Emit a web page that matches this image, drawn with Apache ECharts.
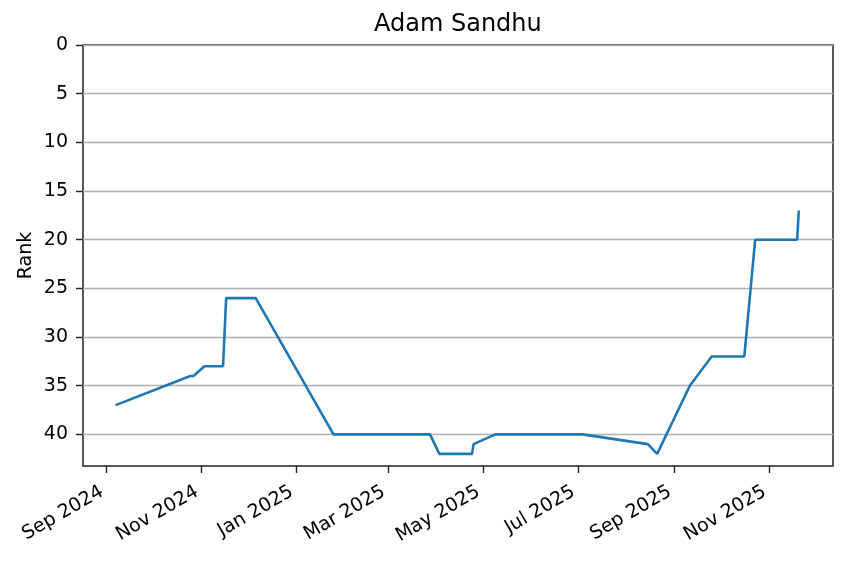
<!DOCTYPE html>
<html><head><meta charset="utf-8">
<script src="https://cdn.jsdelivr.net/npm/echarts@6/dist/echarts.min.js"></script>
<style>html,body{margin:0;padding:0;background:#fff}#c{width:847px;height:561px}</style>
</head><body><div id="c"></div>
<script>
const dates = ['2024-09-07','2024-10-25','2024-10-27','2024-11-03','2024-11-15','2024-11-17','2024-12-06',
  '2025-01-25','2025-03-28','2025-04-03','2025-04-24','2025-04-25','2025-05-09','2025-07-04',
  '2025-08-15','2025-08-21','2025-09-11','2025-09-25','2025-10-16','2025-10-23','2025-11-19','2025-11-20'];
const ranks = [37,34,34,33,33,26,26,40,40,42,42,41,40,40,41,42,35,32,32,20,20,17];
const xTickDates = ['2024-09-01','2024-11-01','2025-01-01','2025-03-01','2025-05-01','2025-07-01','2025-09-01','2025-11-01'];
const xTickLabels = ['Sep 2024','Nov 2024','Jan 2025','Mar 2025','May 2025','Jul 2025','Sep 2025','Nov 2025'];
const yTicks = [0,5,10,15,20,25,30,35,40];
const xMinDate = '2024-08-17';
const xMaxDate = '2025-12-12';
const yMax = 43.25;
const titleText = 'Adam Sandhu';
const yName = 'Rank';

const ts = s => Date.parse(s);
const xTickVals = xTickDates.map(ts);
const seriesData = dates.map((d, i) => [ts(d), ranks[i]]);
const FONT = 'DejaVu Sans';

const chart = echarts.init(document.getElementById('c'), null, {renderer: 'canvas'});
chart.setOption({
  animation: false,
  backgroundColor: '#ffffff',
  title: {
    text: titleText, left: 374, top: 13, padding: 0,
    textStyle: {fontFamily: FONT, fontSize: 24, fontWeight: 'normal', color: '#000'}
  },
  grid: {left: 83, right: 14, top: 45, bottom: 95, show: true, borderColor: '#222', borderWidth: 1.5, backgroundColor: 'transparent'},
  xAxis: {
    type: 'value', min: ts(xMinDate), max: ts(xMaxDate),
    axisLine: {show: false, onZero: false},
    axisTick: {show: true, customValues: xTickVals, length: 7, lineStyle: {color: '#222', width: 1.4}},
    splitLine: {show: false},
    axisLabel: {
      customValues: xTickVals, rotate: 30, margin: 22, padding: [0, 5, 0, 0],
      fontFamily: FONT, fontSize: 19, color: '#000',
      formatter: v => { const i = xTickVals.indexOf(v); return i >= 0 ? xTickLabels[i] : ''; }
    }
  },
  yAxis: {
    type: 'value', inverse: true, min: 0, max: yMax, interval: 5,
    name: yName, nameLocation: 'middle', nameGap: 47, nameRotate: 90, nameMoveOverlap: false,
    nameTextStyle: {fontFamily: FONT, fontSize: 19, color: '#000'},
    axisLine: {show: false, onZero: false},
    axisTick: {show: true, customValues: yTicks, length: 7, lineStyle: {color: '#222', width: 1.4}},
    axisLabel: {customValues: yTicks, margin: 15, fontFamily: FONT, fontSize: 19, color: '#000'},
    splitLine: {show: true, lineStyle: {color: '#b0b0b0', width: 1.4}}
  },
  series: [{
    type: 'line', data: seriesData, showSymbol: false, symbol: 'none',
    lineStyle: {color: '#1f77b4', width: 2.6}, itemStyle: {color: '#1f77b4'}
  }]
});
</script></body></html>
